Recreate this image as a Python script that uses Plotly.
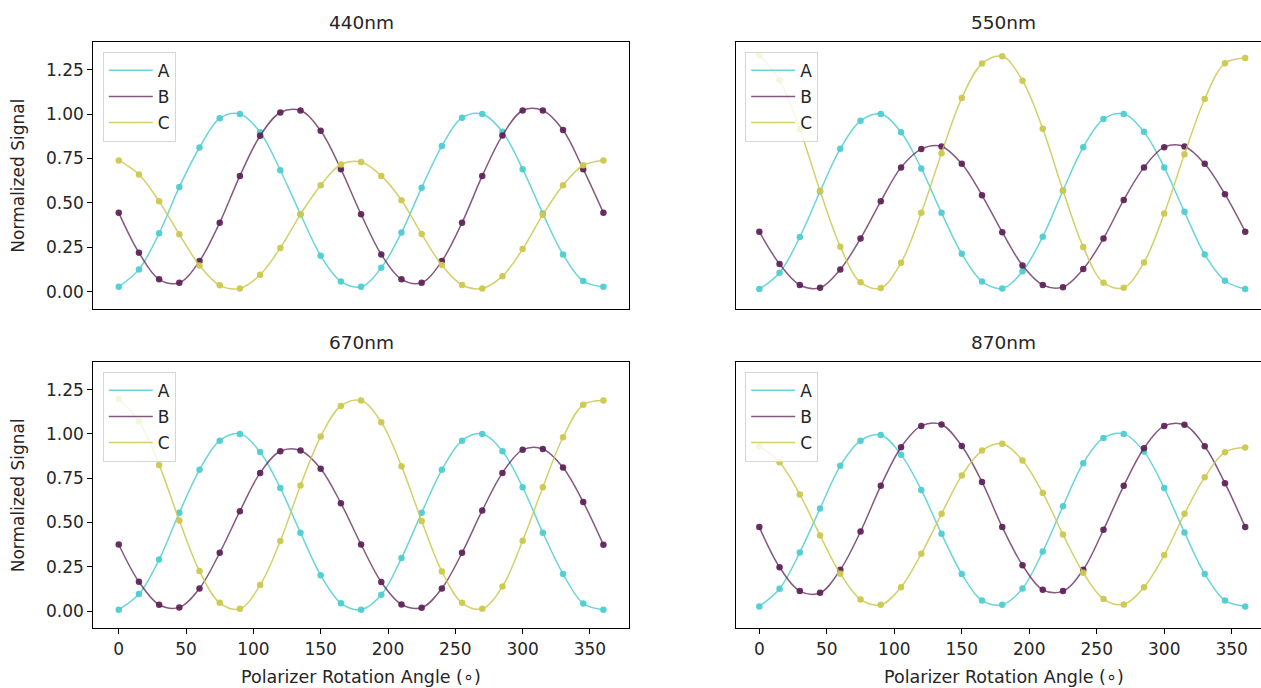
import plotly.graph_objects as go

# Polarizer rotation angles (degrees)
angles = [0, 15, 30, 45, 60, 75, 90, 105, 120, 135, 150, 165, 180,
          195, 210, 225, 240, 255, 270, 285, 300, 315, 330, 345, 360]

wavelengths = ["440nm", "550nm", "670nm", "870nm"]

# Normalized signal per channel, one list per wavelength
a_440 = [0.028, 0.126, 0.329, 0.590, 0.812, 0.976, 1.000, 0.898, 0.684, 0.436, 0.203, 0.058, 0.028,
         0.135, 0.333, 0.586, 0.820, 0.980, 1.000, 0.900, 0.690, 0.440, 0.210, 0.060, 0.028]
b_440 = [0.444, 0.220, 0.070, 0.051, 0.173, 0.389, 0.652, 0.878, 1.009, 1.020, 0.906, 0.690, 0.436,
         0.210, 0.070, 0.051, 0.173, 0.389, 0.652, 0.880, 1.020, 1.020, 0.910, 0.690, 0.444]
c_440 = [0.739, 0.660, 0.509, 0.323, 0.148, 0.036, 0.019, 0.096, 0.246, 0.436, 0.600, 0.716, 0.730,
         0.652, 0.515, 0.325, 0.150, 0.038, 0.019, 0.088, 0.240, 0.434, 0.600, 0.712, 0.739]

a_550 = [0.015, 0.107, 0.308, 0.564, 0.805, 0.962, 1.000, 0.898, 0.694, 0.444, 0.214, 0.058, 0.019,
         0.115, 0.310, 0.570, 0.814, 0.972, 1.000, 0.900, 0.700, 0.450, 0.210, 0.062, 0.015]
b_550 = [0.338, 0.156, 0.038, 0.023, 0.126, 0.300, 0.509, 0.700, 0.803, 0.818, 0.720, 0.543, 0.335,
         0.148, 0.038, 0.026, 0.128, 0.300, 0.517, 0.700, 0.814, 0.818, 0.720, 0.549, 0.338]
c_550 = [1.330, 1.190, 0.915, 0.568, 0.254, 0.053, 0.021, 0.164, 0.444, 0.780, 1.090, 1.284, 1.325,
         1.188, 0.917, 0.570, 0.252, 0.051, 0.023, 0.165, 0.440, 0.774, 1.085, 1.286, 1.316]

a_670 = [0.008, 0.096, 0.291, 0.555, 0.797, 0.962, 1.000, 0.898, 0.694, 0.442, 0.203, 0.045, 0.008,
         0.092, 0.299, 0.555, 0.797, 0.962, 1.000, 0.902, 0.699, 0.442, 0.210, 0.043, 0.008]
b_670 = [0.376, 0.165, 0.036, 0.021, 0.128, 0.329, 0.564, 0.780, 0.902, 0.906, 0.803, 0.609, 0.376,
         0.164, 0.038, 0.019, 0.128, 0.329, 0.568, 0.780, 0.910, 0.915, 0.810, 0.615, 0.374]
c_670 = [1.197, 1.071, 0.825, 0.511, 0.226, 0.047, 0.013, 0.147, 0.395, 0.709, 0.985, 1.158, 1.188,
         1.066, 0.818, 0.509, 0.224, 0.047, 0.013, 0.139, 0.397, 0.699, 0.981, 1.164, 1.188]

a_870 = [0.026, 0.126, 0.331, 0.579, 0.820, 0.962, 0.994, 0.883, 0.684, 0.436, 0.210, 0.060, 0.036,
         0.128, 0.336, 0.592, 0.835, 0.977, 1.000, 0.900, 0.694, 0.444, 0.210, 0.060, 0.026]
b_870 = [0.474, 0.248, 0.113, 0.103, 0.233, 0.449, 0.707, 0.925, 1.045, 1.053, 0.932, 0.729, 0.474,
         0.259, 0.120, 0.113, 0.233, 0.459, 0.707, 0.919, 1.045, 1.051, 0.930, 0.722, 0.474]
c_870 = [0.929, 0.840, 0.658, 0.427, 0.211, 0.066, 0.036, 0.135, 0.323, 0.549, 0.765, 0.906, 0.944,
         0.850, 0.667, 0.432, 0.216, 0.068, 0.038, 0.135, 0.316, 0.549, 0.756, 0.897, 0.923]

channels = ["A", "B", "C"]
panel_data = [
    [a_440, b_440, c_440],
    [a_550, b_550, c_550],
    [a_670, b_670, c_670],
    [a_870, b_870, c_870],
]

line_colors = ["rgba(78,206,210,0.85)", "rgba(92,32,86,0.75)", "rgba(204,200,78,0.85)"]
marker_colors = ["rgba(78,206,210,0.95)", "rgba(92,32,86,0.92)", "rgba(204,200,78,0.95)"]

FONT = "DejaVu Sans"
TXT = "#262626"
W, H = 1261, 688

# Panel geometry in pixels: (left, right, top, bottom)
panels_px = [
    (93.3, 629.0, 42.3, 309.0),
    (735.7, 1261.0, 42.3, 309.0),
    (93.3, 629.0, 362.3, 628.3),
    (735.7, 1261.0, 362.3, 628.3),
]
x_ranges = [[-18.9, 379.0], [-17.5, 371.7], [-18.9, 379.0], [-17.5, 371.7]]
y_range = [-0.097, 1.404]

fig = go.Figure()

for p, series in enumerate(panel_data):
    suffix = "" if p == 0 else str(p + 1)
    legend_name = "legend" + suffix
    for k, (name, vals) in enumerate(zip(channels, series)):
        grp = f"{name}{p}"
        fig.add_trace(go.Scatter(
            x=angles, y=vals, mode="lines", name=name,
            line=dict(color=line_colors[k], width=1.5, shape="spline", smoothing=1.0),
            xaxis="x" + suffix, yaxis="y" + suffix,
            legend=legend_name, legendgroup=grp, showlegend=True,
            hoverinfo="skip",
        ))
        fig.add_trace(go.Scatter(
            x=angles, y=vals, mode="markers", name=name,
            marker=dict(color=marker_colors[k], size=6.5, line=dict(width=0)),
            xaxis="x" + suffix, yaxis="y" + suffix,
            legend=legend_name, legendgroup=grp, showlegend=False,
        ))

layout = dict(
    width=W, height=H,
    margin=dict(l=0, r=0, t=0, b=0),
    paper_bgcolor="white", plot_bgcolor="white",
    font=dict(family=FONT, size=17, color=TXT),
    showlegend=True,
    annotations=[],
)

tickvals_x = [0, 50, 100, 150, 200, 250, 300, 350]
tickvals_y = [0.0, 0.25, 0.5, 0.75, 1.0, 1.25]
ticktext_y = ["0.00", "0.25", "0.50", "0.75", "1.00", "1.25"]

for p, (l, r, t, b) in enumerate(panels_px):
    suffix = "" if p == 0 else str(p + 1)
    is_left = p in (0, 2)
    is_bottom = p in (2, 3)
    layout["xaxis" + suffix] = dict(
        domain=[l / W, r / W], range=x_ranges[p], anchor="y" + suffix,
        showgrid=False, zeroline=False,
        showline=True, linecolor="black", linewidth=1, mirror=True,
        ticks="outside" if is_bottom else "", ticklen=5, tickcolor="black",
        tickvals=tickvals_x, showticklabels=is_bottom,
        tickfont=dict(family=FONT, size=17, color=TXT),
    )
    layout["yaxis" + suffix] = dict(
        domain=[1 - b / H, 1 - t / H], range=y_range, anchor="x" + suffix,
        showgrid=False, zeroline=False,
        showline=True, linecolor="black", linewidth=1,
        mirror=True if is_left else False,
        ticks="outside" if is_left else "", ticklen=5, tickcolor="black",
        tickvals=tickvals_y, ticktext=ticktext_y, showticklabels=is_left,
        tickfont=dict(family=FONT, size=17, color=TXT),
    )
    legend_name = "legend" + suffix
    layout[legend_name] = dict(
        x=(l + 9.5) / W, y=1 - (t + 9.5) / H, xanchor="left", yanchor="top",
        bgcolor="rgba(255,255,255,0.8)", bordercolor="#d6d6d6", borderwidth=1,
        font=dict(family=FONT, size=17, color=TXT),
        traceorder="grouped", tracegroupgap=1, itemwidth=44,
    )
    # panel title
    full_w = 535.7
    cx = l + full_w / 2
    layout["annotations"].append(dict(
        text=wavelengths[p], x=cx / W, y=1 - (t - 20) / H,
        xref="paper", yref="paper", showarrow=False,
        xanchor="center", yanchor="middle",
        font=dict(family=FONT, size=18.5, color=TXT),
    ))
    if is_left:
        layout["annotations"].append(dict(
            text="Normalized Signal", x=18 / W, y=1 - ((t + b) / 2) / H,
            xref="paper", yref="paper", showarrow=False, textangle=-90,
            xanchor="center", yanchor="middle",
            font=dict(family=FONT, size=17, color=TXT),
        ))
    if is_bottom:
        layout["annotations"].append(dict(
            text="Polarizer Rotation Angle (∘)", x=cx / W, y=1 - 677 / H,
            xref="paper", yref="paper", showarrow=False,
            xanchor="center", yanchor="middle",
            font=dict(family=FONT, size=17.5, color=TXT),
        ))

fig.update_layout(**layout)
fig.write_html("out.html")
